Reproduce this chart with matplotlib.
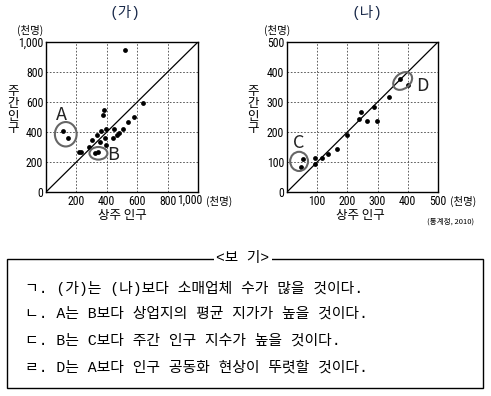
import matplotlib
matplotlib.use("Agg")
import matplotlib.pyplot as plt
from matplotlib.patches import Ellipse, Rectangle
from matplotlib import font_manager

plt.rcParams['font.family'] = ['Noto Sans CJK KR', 'DejaVu Sans']
MONO = ['Liberation Mono', 'Noto Sans CJK KR']

_names = {f.name for f in font_manager.fontManager.ttflist}
_cond = [n for n in ['Liberation Sans Narrow', 'DejaVu Sans Condensed', 'Roboto Condensed',
                     'Open Sans Condensed'] if n in _names]
TICKFONT = _cond[0] if _cond else 'Noto Sans CJK KR'
TICKSIZE = 8.5 if _cond else 7.5

# (가) data: 상주 인구, 주간 인구 (천명)
ga_x = [520, 635, 580, 538, 383, 372, 112, 148, 398, 359, 335, 305, 286, 387, 352, 398,
        450, 444, 466, 483, 505, 216, 229, 322, 342]
ga_y = [950, 596, 500, 466, 545, 514, 406, 358, 420, 408, 379, 345, 299, 357, 332, 316,
        420, 358, 379, 394, 418, 267, 267, 258, 269]
# (나) data
na_x = [52, 46, 93, 93, 117, 137, 166, 199, 238, 245, 264, 288, 298, 337, 374, 401]
na_y = [109, 84, 113, 94, 113, 127, 143, 190, 244, 268, 236, 284, 236, 318, 378, 358]

ga_ticks = [0, 200, 400, 600, 800, 1000]
ga_ticklabels = ['0', '200', '400', '600', '800', '1,000']
na_ticks = [0, 100, 200, 300, 400, 500]
na_ticklabels = ['0', '100', '200', '300', '400', '500']

titles = ['(가)', '(나)']
unit = '(천명)'
xlabel = '상주 인구'
ylabel = '주\n간\n인\n구'
source = '(통계청, 2010)'
bogi_title = '<보 기>'
bogi_lines = [
    'ㄱ. (가)는 (나)보다 소매업체 수가 많을 것이다.',
    'ㄴ. A는 B보다 상업지의 평균 지가가 높을 것이다.',
    'ㄷ. B는 C보다 주간 인구 지수가 높을 것이다.',
    'ㄹ. D는 A보다 인구 공동화 현상이 뚜렷할 것이다.',
]

W, H = 491, 396
fig = plt.figure(figsize=(W / 100, H / 100), dpi=100)

def px(x, y):
    return x / W, 1 - y / H

def make_axes(rect_px, xs, ys, ticks, ticklabels, vmax, ells, labels, last_right):
    l, t, r, b = rect_px
    ax = fig.add_axes([l / W, 1 - b / H, (r - l) / W, (b - t) / H])
    ax.set_xlim(0, vmax)
    ax.set_ylim(0, vmax)
    xt = ticks[1:-1] if last_right else ticks[1:]
    xl = ticklabels[1:-1] if last_right else ticklabels[1:]
    ax.set_xticks(xt)
    ax.set_xticklabels(xl, fontsize=TICKSIZE, family=TICKFONT)
    if last_right:
        ax.annotate(ticklabels[-1], xy=(ticks[-1], 0), xycoords='data',
                    xytext=(3.3, -1.45), textcoords='offset points',
                    ha='right', va='top', fontsize=TICKSIZE, family=TICKFONT)
    ax.set_yticks(ticks)
    ax.set_yticklabels(ticklabels, fontsize=TICKSIZE, family=TICKFONT)
    ax.tick_params(length=0, pad=2)
    ax.grid(True, color='#444444', linestyle=(0, (2, 2)), linewidth=0.6)
    ax.plot([0, vmax], [0, vmax], color='black', linewidth=0.9, zorder=2)
    ax.scatter(xs, ys, s=12, color='black', zorder=3, linewidths=0)
    for (cx, cy, w, h, ang) in ells:
        ax.add_patch(Ellipse((cx, cy), w, h, angle=ang, fill=False,
                             edgecolor='#666666', linewidth=1.5, zorder=4))
    for (tx, ty, s) in labels:
        ax.text(tx, ty, s, fontsize=13, ha='center', va='center', zorder=5,
                color='#222222')
    for sp in ax.spines.values():
        sp.set_linewidth(1.0)
    return ax

ax1 = make_axes((46, 42, 198, 192), ga_x, ga_y, ga_ticks, ga_ticklabels, 1000,
                [(130, 385, 143, 163, 0), (345, 258, 118, 84, 0)],
                [(103, 511, 'A'), (442, 244, 'B')], True)
ax2 = make_axes((287, 42, 438, 192), na_x, na_y, na_ticks, na_ticklabels, 500,
                [(40, 102, 59, 64, 0), (383, 370, 70, 50, 40)],
                [(39, 162, 'C'), (447, 354, 'D')], False)

# titles and labels
for cx, t in [(125, titles[0]), (367, titles[1])]:
    fig.text(*px(cx, 13), t, fontsize=10.5, ha='center', va='center',
             color='#1a2a4a', family=MONO)
for x0 in [30, 277]:
    fig.text(*px(x0, 30), unit, fontsize=7.5, ha='center', va='center')
fig.text(*px(13, 110), ylabel, fontsize=9, ha='center', va='center', linespacing=0.95)
fig.text(*px(253, 110), ylabel, fontsize=9, ha='center', va='center', linespacing=0.95)
fig.text(*px(122, 215), xlabel, fontsize=9, ha='center', va='center')
fig.text(*px(360, 215), xlabel, fontsize=9, ha='center', va='center')
fig.text(*px(206, 201), unit, fontsize=7.5, ha='left', va='center')
fig.text(*px(450, 201), unit, fontsize=7.5, ha='left', va='center')
fig.text(*px(451, 222), source, fontsize=5.5, ha='center', va='center')

# <보 기> box
bx0, by0, bx1, by1 = 7, 259, 483, 388
fig.patches.append(Rectangle(px(bx0, by1), (bx1 - bx0) / W, (by1 - by0) / H,
                             transform=fig.transFigure, fill=False,
                             edgecolor='black', linewidth=1.0))
fig.text(*px(243, 258), bogi_title, fontsize=10.5, ha='center', va='center',
         family=MONO, bbox=dict(facecolor='white', edgecolor='none', pad=1.5))
for yy, line in zip([288, 314, 341, 368], bogi_lines):
    fig.text(*px(25, yy), line, fontsize=10.7, ha='left', va='center', family=MONO)

fig.savefig('out.png', dpi=100)
